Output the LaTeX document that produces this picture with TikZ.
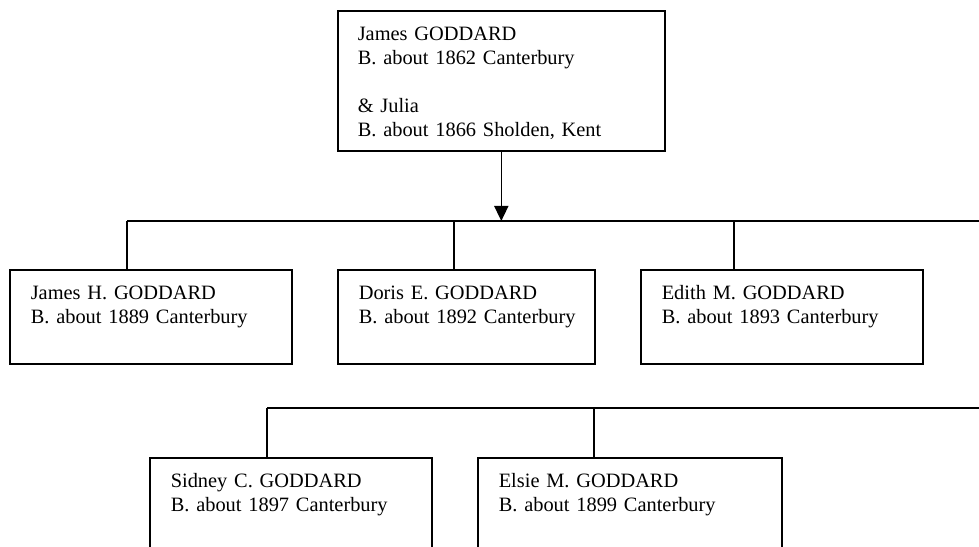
\documentclass[tikz,border=0pt]{standalone}
\usepackage{fontspec}
\setmainfont{Liberation Serif}
\usepackage{tikz}
\usetikzlibrary{arrows.meta}

\begin{document}
\begin{tikzpicture}[x=0.025cm, y=-0.025cm, line width=1.1pt,
                        person/.style={shape=rectangle, draw, anchor=north west, inner sep=0pt, align=left,
                                text height=0.75cm, text depth=1.6cm, font={\fontsize{14.5pt}{17.1pt}\selectfont\frenchspacing}}]
                        \useasboundingbox (0,0) rectangle (979,546);
                        \clip (0,0) rectangle (979,546);

                        \node[person] (parents) at (337,10) [text width=8.175cm, text depth=2.75cm]
                        {\leftskip=0.5cm James GODDARD\\B. about 1862 Canterbury\\[17.1pt]\& Julia\\B. about 1866 Sholden, Kent\par};

                        \node[person] (kid1) at (9,269) [text width=7.05cm] {\leftskip=0.525cm James H. GODDARD\\B. about 1889 Canterbury\par};
                        \node[person] (kid2) at (337,269) [text width=6.425cm] {\leftskip=0.525cm Doris E. GODDARD\\B. about 1892 Canterbury\par};
                        \node[person] (kid3) at (640,269) [text width=7.05cm] {\leftskip=0.525cm Edith M. GODDARD\\B. about 1893 Canterbury\par};

                        \node[person] (kid4) at (149,457) [text width=7.05cm] {\leftskip=0.525cm Sidney C. GODDARD\\B. about 1897 Canterbury\par};
                        \node[person] (kid5) at (477,457) [text width=7.6cm] {\leftskip=0.525cm Elsie M. GODDARD\\B. about 1899 Canterbury\par};

                        % first row of children
                        \coordinate (rowA) at (127,221);
                        \coordinate (rowA end) at (990,221);
                        \coordinate (dropA2) at (454,221);
                        \coordinate (dropA3) at (734,221);

                        % second row of children
                        \coordinate (rowB) at (267,408);
                        \coordinate (rowB end) at (990,408);
                        \coordinate (dropB2) at (594,408);

                        \draw [-{Triangle[length=0.375cm, width=0.35cm]}] (parents) -- (parents |- rowA);

                        \path	[-]	(rowA)	edge	(rowA end)
                        edge	(rowA |- kid1.north)
                        (dropA2)	edge	(dropA2 |- kid2.north)
                        (dropA3)	edge	(dropA3 |- kid3.north);

                        \path	[-]	(rowB)	edge	(rowB end)
                        edge	(rowB |- kid4.north)
                        (dropB2)	edge	(dropB2 |- kid5.north);
                    \end{tikzpicture}
\end{document}
